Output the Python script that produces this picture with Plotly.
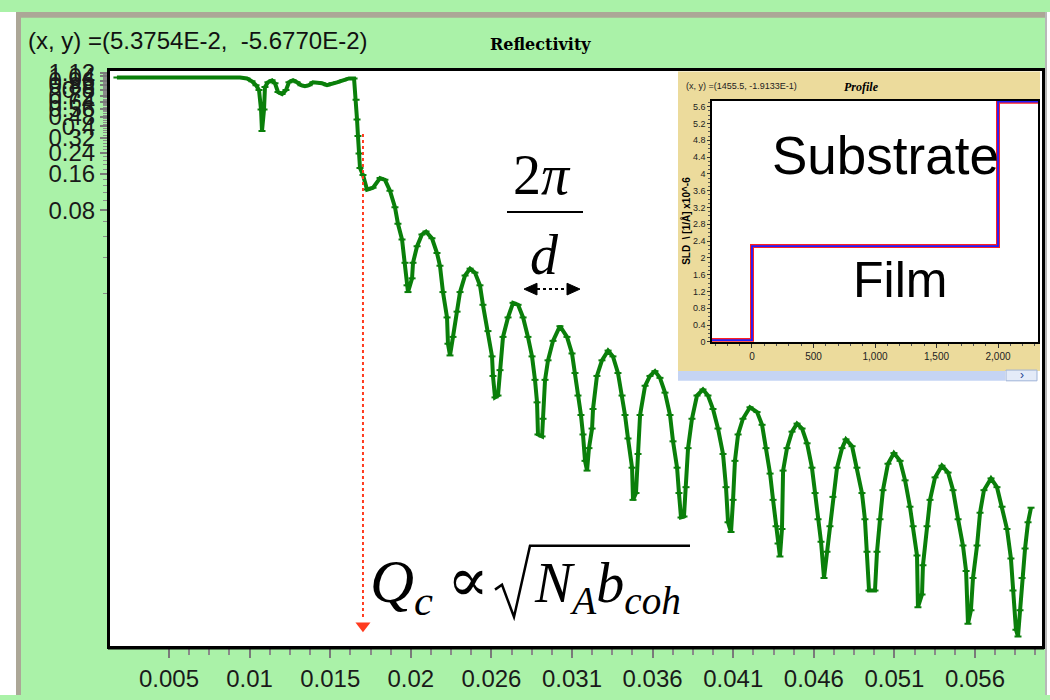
import plotly.graph_objects as go

# ---------------- data ----------------
# Reflectivity curve: momentum transfer q (1/A) and reflectivity R
q = [0.00168, 0.00379, 0.00570, 0.00762, 0.00953, 0.00997, 0.01029, 0.01055, 0.01074, 0.01087,
     0.01093, 0.01106, 0.01112, 0.01131, 0.01157, 0.01176, 0.01195, 0.01221, 0.01246, 0.01265,
     0.01291, 0.01316, 0.01342, 0.01367, 0.01393, 0.01418, 0.01450, 0.01476, 0.01508, 0.01540,
     0.01571, 0.01610, 0.01648, 0.01680, 0.01693, 0.01699, 0.01705, 0.01712, 0.01718, 0.01737,
     0.01763, 0.01801, 0.01846, 0.01877, 0.01909, 0.01941, 0.01960, 0.01986, 0.02005, 0.02018,
     0.02024, 0.02050, 0.02056, 0.02082, 0.02113, 0.02139, 0.02177, 0.02209, 0.02228, 0.02247,
     0.02273, 0.02279, 0.02292, 0.02311, 0.02337, 0.02356, 0.02388, 0.02420, 0.02451, 0.02483,
     0.02502, 0.02534, 0.02560, 0.02566, 0.02579, 0.02598, 0.02611, 0.02630, 0.02662, 0.02694,
     0.02726, 0.02758, 0.02789, 0.02815, 0.02834, 0.02847, 0.02853, 0.02879, 0.02885, 0.02898,
     0.02917, 0.02949, 0.02993, 0.03038, 0.03070, 0.03089, 0.03108, 0.03127, 0.03140, 0.03153,
     0.03166, 0.03178, 0.03198, 0.03204, 0.03229, 0.03261, 0.03300, 0.03331, 0.03363, 0.03389,
     0.03408, 0.03427, 0.03453, 0.03459, 0.03478, 0.03491, 0.03504, 0.03536, 0.03567, 0.03599,
     0.03631, 0.03663, 0.03695, 0.03714, 0.03740, 0.03752, 0.03765, 0.03784, 0.03797, 0.03810,
     0.03835, 0.03867, 0.03905, 0.03937, 0.03969, 0.04001, 0.04033, 0.04052, 0.04065, 0.04084,
     0.04097, 0.04109, 0.04129, 0.04160, 0.04205, 0.04250, 0.04282, 0.04307, 0.04333, 0.04352,
     0.04371, 0.04384, 0.04396, 0.04409, 0.04416, 0.04441, 0.04473, 0.04505, 0.04537, 0.04569,
     0.04600, 0.04620, 0.04639, 0.04658, 0.04677, 0.04696, 0.04715, 0.04734, 0.04760, 0.04792,
     0.04817, 0.04856, 0.04887, 0.04919, 0.04938, 0.04951, 0.04964, 0.05002, 0.05015, 0.05034,
     0.05053, 0.05085, 0.05123, 0.05162, 0.05194, 0.05225, 0.05245, 0.05270, 0.05276, 0.05302,
     0.05308, 0.05334, 0.05353, 0.05385, 0.05429, 0.05468, 0.05500, 0.05532, 0.05563, 0.05583,
     0.05595, 0.05614, 0.05627, 0.05653, 0.05672, 0.05697, 0.05742, 0.05780, 0.05812, 0.05844,
     0.05869, 0.05882, 0.05901, 0.05914, 0.05927, 0.05940, 0.05959, 0.05978, 0.05997]

R = [1.02, 1.02, 1.02, 1.02, 1.02, 1.00, 0.947, 0.879, 0.800, 0.550,
     0.365, 0.550, 0.847, 0.929, 0.965, 0.912, 0.771, 0.742, 0.800, 0.929,
     0.965, 0.929, 0.879, 0.862, 0.879, 0.929, 0.929, 0.912, 0.879, 0.912,
     0.929, 0.965, 1.00, 1.00, 0.664, 0.456, 0.332, 0.237, 0.179, 0.157,
     0.1185, 0.123, 0.148, 0.143, 0.116, 0.0846, 0.0616, 0.0456, 0.0291, 0.0189,
     0.0166, 0.0216, 0.0291, 0.0400, 0.0501, 0.0530, 0.0465, 0.0351, 0.0275, 0.0166,
     0.0102, 0.00616, 0.00492, 0.00702, 0.0114, 0.0166, 0.0228, 0.0260, 0.0241, 0.0189,
     0.0130, 0.00785, 0.00483, 0.00332, 0.00220, 0.00228, 0.00371, 0.00702, 0.0102, 0.0135,
     0.0130, 0.0102, 0.00702, 0.00483, 0.00308, 0.00200, 0.00108, 0.00104, 0.00146, 0.00308,
     0.00448, 0.00651, 0.00862, 0.00702, 0.00511, 0.00351, 0.00228, 0.00157, 0.00108, 0.000651,
     0.000540, 0.000831, 0.00121, 0.00176, 0.00332, 0.00448, 0.00540, 0.00483, 0.00351, 0.00228,
     0.00157, 0.00100, 0.000571, 0.000308, 0.000351, 0.000743, 0.00157, 0.00275, 0.00332, 0.00364,
     0.00320, 0.00241, 0.00157, 0.000947, 0.000571, 0.000351, 0.000220, 0.000224, 0.000393, 0.000831,
     0.00146, 0.00228, 0.00256, 0.00228, 0.00176, 0.00121, 0.000743, 0.000393, 0.000200, 0.000166,
     0.000308, 0.000651, 0.00108, 0.00146, 0.00182, 0.00166, 0.00130, 0.000831, 0.000510, 0.000308,
     0.000186, 0.000133, 0.000104, 0.000176, 0.000540, 0.000831, 0.00114, 0.00133, 0.00121, 0.000912,
     0.000571, 0.000351, 0.000212, 0.000138, 0.0000689, 0.000114, 0.000186, 0.000326, 0.000571, 0.000831,
     0.000983, 0.000862, 0.000571, 0.000351, 0.000212, 0.000114, 0.0000540, 0.0000540, 0.000114, 0.000212,
     0.000371, 0.000616, 0.000756, 0.000651, 0.000448, 0.000270, 0.000186, 0.000106, 0.0000393, 0.0000501,
     0.0000879, 0.000186, 0.000308, 0.000474, 0.000593, 0.000520, 0.000371, 0.000212, 0.000128, 0.0000786,
     0.0000286, 0.0000371, 0.0000689, 0.000128, 0.000241, 0.000371, 0.000465, 0.000393, 0.000270, 0.000176,
     0.000100, 0.0000540, 0.0000255, 0.0000224, 0.0000371, 0.0000689, 0.000121, 0.000200, 0.000265]

# critical edge marker
qc = 0.01737
qc_line_top = 0.344
qc_line_bottom = 3.14e-5
qc_arrow = 2.75e-5

# x tick labels (evenly spaced ticks)
x_tick_text = ["0.005", "0.01", "0.015", "0.02", "0.026", "0.031",
               "0.036", "0.041", "0.046", "0.051", "0.056"]
x_tick_start = 0.005
x_tick_step = 0.00514

# y tick labels on the log axis
y_tick_vals = [0.08, 0.16, 0.24, 0.32, 0.40, 0.48, 0.56, 0.64, 0.72, 0.80, 0.88, 0.96, 1.04, 1.12]
y_tick_text = ["0.08", "0.16", "0.24", "0.32", "0.4", "0.48", "0.56", "0.64",
               "0.72", "0.8", "0.88", "0.96", "1.04", "1.12"]

# SLD profile (inset)
z_prof = [-325, 0, 0, 2000, 2000, 2325]
sld_prof = [0.04, 0.04, 2.28, 2.28, 5.72, 5.72]

# ---------------- helpers ----------------
W, H = 1050, 700


def px(x):
    return x / W


def py(y):
    return 1 - y / H


SANS = "Liberation Sans, Arial, sans-serif"
SERIF = "Liberation Serif, Times New Roman, DejaVu Serif, serif"
GREEN = "#0a7f0a"
BG_GREEN = "#aaf2a8"
KHAKI = "#ecdb9c"

x_ticks = [x_tick_start + i * x_tick_step for i in range(len(x_tick_text))]
x_minor = [x_tick_start + j * x_tick_step / 4 for j in range(1, 44) if j % 4 != 0]
y_minor = [round(0.016 * k, 3) for k in range(1, 71) if k % 5 != 0]

fig = go.Figure()

# main reflectivity curve
fig.add_trace(go.Scatter(
    x=q, y=R, mode="lines+markers",
    line=dict(color=GREEN, width=4),
    marker=dict(symbol="line-ew", size=5, color=GREEN, line=dict(width=2, color=GREEN)),
    xaxis="x", yaxis="y", hoverinfo="skip"))

# critical-edge dotted drop line and arrow head
fig.add_trace(go.Scatter(
    x=[qc, qc], y=[qc_line_top, qc_line_bottom], mode="lines",
    line=dict(color="#ff3b1f", width=2, dash="dot"),
    xaxis="x", yaxis="y", hoverinfo="skip"))
fig.add_trace(go.Scatter(
    x=[qc], y=[qc_arrow], mode="markers",
    marker=dict(symbol="triangle-down", size=13, color="#ff3b1f"),
    xaxis="x", yaxis="y", cliponaxis=False, hoverinfo="skip"))

# inset: SLD profile
fig.add_trace(go.Scatter(
    x=z_prof, y=sld_prof, mode="lines",
    line=dict(color="#ff2020", width=4),
    xaxis="x2", yaxis="y2", hoverinfo="skip"))
fig.add_trace(go.Scatter(
    x=z_prof, y=sld_prof, mode="lines",
    line=dict(color="#2020ff", width=1.8),
    xaxis="x2", yaxis="y2", hoverinfo="skip"))
# inset x-axis title (partly hidden under the scroll bar)
fig.add_trace(go.Scatter(
    x=[960], y=[-0.65], mode="text", text=["<b>z / [Å]</b>"],
    textfont=dict(family=SANS, size=10, color="#222"),
    xaxis="x2", yaxis="y2", cliponaxis=False, hoverinfo="skip"))

# ---------------- shapes ----------------
shapes = []


def rect(x0, y0, x1, y1, fill, layer="below", line=None):
    shapes.append(dict(type="rect", xref="paper", yref="paper",
                       x0=px(x0), x1=px(x1), y0=py(y0), y1=py(y1),
                       fillcolor=fill, layer=layer,
                       line=line or dict(width=0)))


def path(points, close=False, fill=None, color="black", width=2, dash=None, layer="above"):
    d = "M " + " L ".join(f"{px(a):.5f},{py(b):.5f}" for a, b in points)
    if close:
        d += " Z"
    s = dict(type="path", xref="paper", yref="paper", path=d, layer=layer,
             line=dict(color=color, width=width))
    if dash:
        s["line"]["dash"] = dash
    if fill:
        s["fillcolor"] = fill
    shapes.append(s)


# window frame
rect(0, 0, 16, 700, "white")
rect(16, 0, 21, 700, "#aca797")
rect(16, 0, 1050, 6, "#aca797")
rect(1046, 0, 1050, 700, "white")
rect(1045, 0, 1047, 700, "#b8b8b8")

# inset panel
rect(678, 61, 1040, 368, KHAKI)
rect(712, 91, 1038, 338, "white")

# scroll bar under the inset
rect(678, 368, 1005, 378, "#c5d4f4", layer="above")
rect(1006, 367, 1037, 378, "#e4ebf8", layer="above", line=dict(color="#9fb3d8", width=1))

# heavier lower frame edge of the main plot
path([(108, 652), (1044, 652)], width=2.5)

# fraction bar of 2pi/d
path([(507, 205), (583, 205)], width=2)
# double arrow under d
path([(537, 284), (567, 284)], width=2, dash="dot")
path([(524, 284), (537, 278), (537, 290)], close=True, fill="black", width=1)
path([(580, 284), (567, 278), (567, 290)], close=True, fill="black", width=1)
# radical sign with overline
path([(495, 592), (502, 587), (514, 620), (530, 547), (690, 547)], width=2.5)

# ---------------- annotations ----------------
ann = []


def text(t, x, y, size, family=SANS, xanchor="left", yanchor="middle", color="black", angle=0):
    ann.append(dict(text=t, x=px(x), y=py(y), xref="paper", yref="paper",
                    xanchor=xanchor, yanchor=yanchor, showarrow=False,
                    textangle=angle, font=dict(family=family, size=size, color=color)))


text("(x, y) =(5.3754E-2,  -5.6770E-2)", 26, 13, 24, yanchor="top", color="#111")
text("<b>Reflectivity</b>", 540, 33, 16, family="DejaVu Serif, serif", xanchor="center")

text("(x, y) =(1455.5, -1.9133E-1)", 684, 76, 9, color="#222")
text("<b><i>Profile</i></b>", 861, 77, 12, family=SERIF, xanchor="center")
text("<b>SLD  \\ [1/Å] x10^-6</b>", 686, 214, 10, xanchor="center", angle=-90)
text("Substrate", 885, 115, 53, xanchor="center", yanchor="top")
text("Film", 900, 244, 50, xanchor="center", yanchor="top")
text("›", 1022, 372, 12, xanchor="center", color="#1f3f8f")

text("2<i>π</i>", 542, 133, 56, family=SERIF, xanchor="center", yanchor="top")
text("<i>d</i>", 544, 215, 56, family=SERIF, xanchor="center", yanchor="top")
text("<i>Q</i><sub><i>c</i></sub>", 368, 547, 61, family=SERIF, yanchor="top")
text("∝", 468, 545, 62, family=SERIF, xanchor="center", yanchor="top")
text("<i>N</i><sub><i>A</i></sub><i>b</i><sub><i>coh</i></sub>", 532, 551, 56,
     family=SERIF, yanchor="top")

# ---------------- layout ----------------
fig.update_layout(
    width=W, height=H, margin=dict(l=0, r=0, t=0, b=0),
    paper_bgcolor=BG_GREEN, plot_bgcolor="white", showlegend=False,
    shapes=shapes, annotations=ann,
    xaxis=dict(
        domain=[px(110), px(1042)], range=[0.001238, 0.060671],
        tickmode="array", tickvals=x_ticks, ticktext=x_tick_text,
        ticks="outside", ticklen=9, tickwidth=1.5, tickcolor="#7a7a7a",
        minor=dict(tickmode="array", tickvals=x_minor, ticks="outside",
                   ticklen=6, tickwidth=1.5, tickcolor="#8a8a8a"),
        tickfont=dict(family=SANS, size=24, color="#1a1a1a"),
        showline=True, linecolor="black", linewidth=3, mirror=True,
        showgrid=False, zeroline=False, anchor="y"),
    yaxis=dict(
        domain=[py(650), py(60)], type="log", range=[-4.731, 0.066],
        tickmode="array", tickvals=y_tick_vals, ticktext=y_tick_text,
        ticks="outside", ticklen=7, tickwidth=1.5, tickcolor="#7a7a7a",
        minor=dict(tickmode="array", tickvals=y_minor, ticks="outside",
                   ticklen=4, tickwidth=1, tickcolor="#8a8a8a"),
        tickfont=dict(family=SANS, size=24, color="#1a1a1a"),
        showline=True, linecolor="black", linewidth=3, mirror=True,
        showgrid=False, zeroline=False, anchor="x"),
    xaxis2=dict(
        domain=[px(712), px(1038)], range=[-325, 2325],
        tickmode="array", tickvals=[0, 500, 1000, 1500, 2000], tickformat=",",
        ticks="outside", ticklen=4, tickcolor="#333",
        minor=dict(dtick=100, tick0=0, ticks="outside", ticklen=2, tickcolor="#555"),
        tickfont=dict(family=SANS, size=10, color="#222"),
        showline=True, linecolor="black", linewidth=1.5, mirror=True,
        showgrid=False, zeroline=False, anchor="y2"),
    yaxis2=dict(
        domain=[py(338), py(91)], range=[0, 5.74],
        tick0=0, dtick=0.4,
        ticks="outside", ticklen=3, tickcolor="#333",
        minor=dict(dtick=0.1, tick0=0, ticks="outside", ticklen=2, tickcolor="#555"),
        tickfont=dict(family=SANS, size=9, color="#222"),
        showline=True, linecolor="black", linewidth=1.5, mirror=True,
        showgrid=False, zeroline=False, anchor="x2"),
)

fig.write_html("out.html")
